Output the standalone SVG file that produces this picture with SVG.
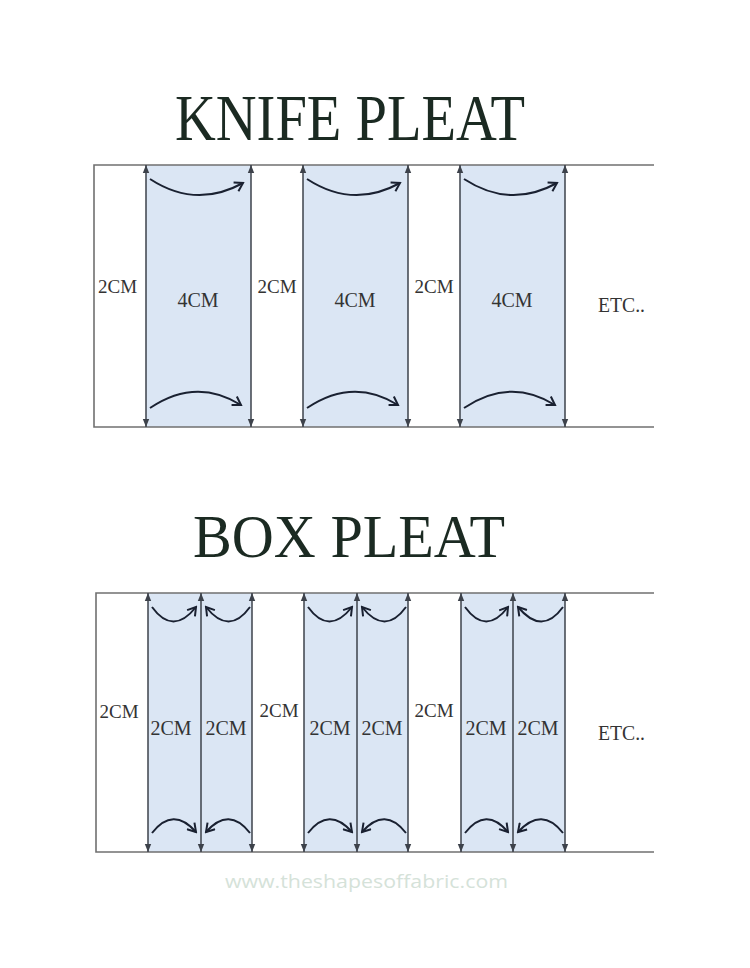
<svg xmlns="http://www.w3.org/2000/svg" width="750" height="968" viewBox="0 0 750 968">
<defs>
<style>
.frame{fill:none;stroke:#707070;stroke-width:1.6}
.panel{fill:#dbe6f4;stroke:none}
.vline{stroke:#3d424b;stroke-width:1.5;fill:none}
.curve{stroke:#1a2131;stroke-width:2;fill:none}
.title{font-family:"Liberation Serif",serif;fill:#1b2a22}
.lbl{font-family:"Liberation Serif",serif;font-size:19px;fill:#333}
.plbl{font-family:"Liberation Serif",serif;font-size:20px;fill:#333}
.etc{font-family:"Liberation Serif",serif;font-size:20px;fill:#333}
.web{font-family:"Open Sans",sans-serif;font-size:19px;fill:#d5e2d9}
</style>
<marker id="tri" viewBox="0 0 10 10" refX="10" refY="5" markerWidth="8" markerHeight="8" markerUnits="userSpaceOnUse" orient="auto-start-reverse">
<path d="M0,1 L10,5 L0,9 Z" fill="#3d424b"/>
</marker>
<marker id="chev" viewBox="0 0 12 12" refX="10" refY="6" markerWidth="12" markerHeight="12" markerUnits="userSpaceOnUse" orient="auto">
<path d="M2,1 L10,6 L2,11" fill="none" stroke="#1a2131" stroke-width="2"/>
</marker>
</defs>

<g id="knife-title"><text class="title" x="175" y="140" font-size="66" textLength="350" lengthAdjust="spacingAndGlyphs">KNIFE PLEAT</text></g>

<g id="knife-strip">
<rect class="panel" x="146" y="165" width="105" height="262"/>
<rect class="panel" x="303" y="165" width="105" height="262"/>
<rect class="panel" x="460" y="165" width="105" height="262"/>
<path class="frame" d="M654,165 H94 V427 H654"/>
</g>

<g id="knife-connectors">
<line class="vline" x1="146" y1="427" x2="146" y2="165" marker-start="url(#tri)" marker-end="url(#tri)"/>
<line class="vline" x1="251" y1="427" x2="251" y2="165" marker-start="url(#tri)" marker-end="url(#tri)"/>
<line class="vline" x1="303" y1="427" x2="303" y2="165" marker-start="url(#tri)" marker-end="url(#tri)"/>
<line class="vline" x1="408" y1="427" x2="408" y2="165" marker-start="url(#tri)" marker-end="url(#tri)"/>
<line class="vline" x1="460" y1="427" x2="460" y2="165" marker-start="url(#tri)" marker-end="url(#tri)"/>
<line class="vline" x1="565" y1="427" x2="565" y2="165" marker-start="url(#tri)" marker-end="url(#tri)"/>
<path class="curve" d="M150,179 Q196,209 243,183" marker-end="url(#chev)"/>
<path class="curve" d="M307,179 Q353,209 400,183" marker-end="url(#chev)"/>
<path class="curve" d="M464,179 Q510,209 557,183" marker-end="url(#chev)"/>
<path class="curve" d="M150,408 Q196,377 241,405" marker-end="url(#chev)"/>
<path class="curve" d="M307,408 Q353,377 398,405" marker-end="url(#chev)"/>
<path class="curve" d="M464,408 Q510,377 555,405" marker-end="url(#chev)"/>
</g>

<g id="knife-labels">
<text class="lbl" x="117.5" y="293" text-anchor="middle">2CM</text>
<text class="plbl" x="198" y="307" text-anchor="middle">4CM</text>
<text class="lbl" x="277" y="293" text-anchor="middle">2CM</text>
<text class="plbl" x="355" y="307" text-anchor="middle">4CM</text>
<text class="lbl" x="434" y="293" text-anchor="middle">2CM</text>
<text class="plbl" x="512" y="307" text-anchor="middle">4CM</text>
<text class="etc" x="598" y="312" textLength="47" lengthAdjust="spacingAndGlyphs">ETC..</text>
</g>

<g id="box-title"><text class="title" x="193" y="557" font-size="62" textLength="312" lengthAdjust="spacingAndGlyphs">BOX PLEAT</text></g>

<g id="box-strip">
<rect class="panel" x="148" y="593" width="104" height="259"/>
<rect class="panel" x="304" y="593" width="104" height="259"/>
<rect class="panel" x="461" y="593" width="104" height="259"/>
<path class="frame" d="M654,593 H96 V852 H654"/>
</g>

<g id="box-connectors">
<line class="vline" x1="148" y1="852" x2="148" y2="593" marker-start="url(#tri)" marker-end="url(#tri)"/>
<line class="vline" x1="201" y1="852" x2="201" y2="593" marker-start="url(#tri)" marker-end="url(#tri)"/>
<line class="vline" x1="252" y1="852" x2="252" y2="593" marker-start="url(#tri)" marker-end="url(#tri)"/>
<line class="vline" x1="304" y1="852" x2="304" y2="593" marker-start="url(#tri)" marker-end="url(#tri)"/>
<line class="vline" x1="357" y1="852" x2="357" y2="593" marker-start="url(#tri)" marker-end="url(#tri)"/>
<line class="vline" x1="408" y1="852" x2="408" y2="593" marker-start="url(#tri)" marker-end="url(#tri)"/>
<line class="vline" x1="461" y1="852" x2="461" y2="593" marker-start="url(#tri)" marker-end="url(#tri)"/>
<line class="vline" x1="513" y1="852" x2="513" y2="593" marker-start="url(#tri)" marker-end="url(#tri)"/>
<line class="vline" x1="565" y1="852" x2="565" y2="593" marker-start="url(#tri)" marker-end="url(#tri)"/>
<path class="curve" d="M152,607 Q173,636 196,607" marker-end="url(#chev)"/>
<path class="curve" d="M250,607 Q229,636 206,607" marker-end="url(#chev)"/>
<path class="curve" d="M308,607 Q329,636 352,607" marker-end="url(#chev)"/>
<path class="curve" d="M406,607 Q385,636 362,607" marker-end="url(#chev)"/>
<path class="curve" d="M465,607 Q486,636 508,607" marker-end="url(#chev)"/>
<path class="curve" d="M563,607 Q542,636 518,607" marker-end="url(#chev)"/>
<path class="curve" d="M152,833 Q173,806 196,832" marker-end="url(#chev)"/>
<path class="curve" d="M250,833 Q229,806 206,832" marker-end="url(#chev)"/>
<path class="curve" d="M308,833 Q329,806 352,832" marker-end="url(#chev)"/>
<path class="curve" d="M406,833 Q385,806 362,832" marker-end="url(#chev)"/>
<path class="curve" d="M465,833 Q486,806 508,832" marker-end="url(#chev)"/>
<path class="curve" d="M563,833 Q542,806 518,832" marker-end="url(#chev)"/>
</g>

<g id="box-labels">
<text class="lbl" x="119" y="718" text-anchor="middle">2CM</text>
<text class="plbl" x="171" y="735" text-anchor="middle">2CM</text>
<text class="plbl" x="226" y="735" text-anchor="middle">2CM</text>
<text class="lbl" x="279" y="717" text-anchor="middle">2CM</text>
<text class="plbl" x="330" y="735" text-anchor="middle">2CM</text>
<text class="plbl" x="382" y="735" text-anchor="middle">2CM</text>
<text class="lbl" x="434" y="717" text-anchor="middle">2CM</text>
<text class="plbl" x="486" y="735" text-anchor="middle">2CM</text>
<text class="plbl" x="538" y="735" text-anchor="middle">2CM</text>
<text class="etc" x="598" y="740" textLength="47" lengthAdjust="spacingAndGlyphs">ETC..</text>
</g>

<g id="watermark"><text class="web" x="225" y="888" textLength="283" lengthAdjust="spacingAndGlyphs">www.theshapesoffabric.com</text></g>
</svg>
